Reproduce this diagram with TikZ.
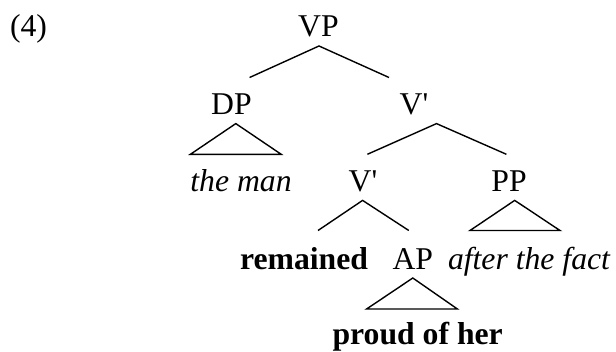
\documentclass[tikz,border=0pt]{standalone}
\usepackage{fontspec}
\setmainfont{Liberation Serif}
\begin{document}
\begin{tikzpicture}[x=1pt,y=-1pt,
  lab/.style={anchor=base, inner sep=0pt, font=\fontsize{31.7}{38}\selectfont},
  word/.style={lab, font=\fontsize{31.7}{38}\selectfont\itshape},
  head/.style={lab, font=\fontsize{31.7}{38}\selectfont\bfseries},
  branch/.style={line width=1.4pt, line join=miter, line cap=butt},
]
\useasboundingbox (0,0) rectangle (616,351);

% example number
\node[lab] (num) at (28.5,36) {(4)};

% labels, row by row
\node[lab]  (VP)   at (318.5,36)  {VP};
\node[lab]  (DP)   at (231.5,114.5) {DP};
\node[lab]  (Vb1)  at (414,114.5) {V\textquotesingle};
\node[word] (man)  at (241,191)   {the man};
\node[lab]  (Vb2)  at (363,191)   {V\textquotesingle};
\node[lab]  (PP)   at (509,191)   {PP};
\node[head] (rem)  at (304,269)   {remained};
\node[lab]  (AP)   at (412.8,269) {AP};
\node[word] (fact) at (529,269)   {after the fact};
\node[head] (prd)  at (417.7,344) {proud of her};

% branch points
\coordinate (VP-t)  at (319,46);
\coordinate (VP-l)  at (249.6,77.5);
\coordinate (VP-r)  at (389,77.5);
\coordinate (DP-t)  at (235.8,123.6);
\coordinate (DP-l)  at (190.4,154.3);
\coordinate (DP-r)  at (281.2,154.3);
\coordinate (Vb1-t) at (436.5,123.6);
\coordinate (Vb1-l) at (367.4,154.3);
\coordinate (Vb1-r) at (506.4,154.3);
\coordinate (Vb2-t) at (362.6,200.4);
\coordinate (Vb2-l) at (318,230.5);
\coordinate (Vb2-r) at (408.8,230.5);
\coordinate (PP-t)  at (514.7,200.4);
\coordinate (PP-l)  at (470,230.5);
\coordinate (PP-r)  at (560,230.5);
\coordinate (AP-t)  at (412.8,278);
\coordinate (AP-l)  at (366.6,309);
\coordinate (AP-r)  at (457.4,309);

% branches
\draw[branch] (VP-l) -- (VP-t) -- (VP-r);
\draw[branch] (Vb1-l) -- (Vb1-t) -- (Vb1-r);
\draw[branch] (Vb2-l) -- (Vb2-t) -- (Vb2-r);

% triangles over unanalysed phrases
\draw[branch] (DP-t) -- (DP-l) -- (DP-r) -- cycle;
\draw[branch] (PP-t) -- (PP-l) -- (PP-r) -- cycle;
\draw[branch] (AP-t) -- (AP-l) -- (AP-r) -- cycle;
\end{tikzpicture}
\end{document}
